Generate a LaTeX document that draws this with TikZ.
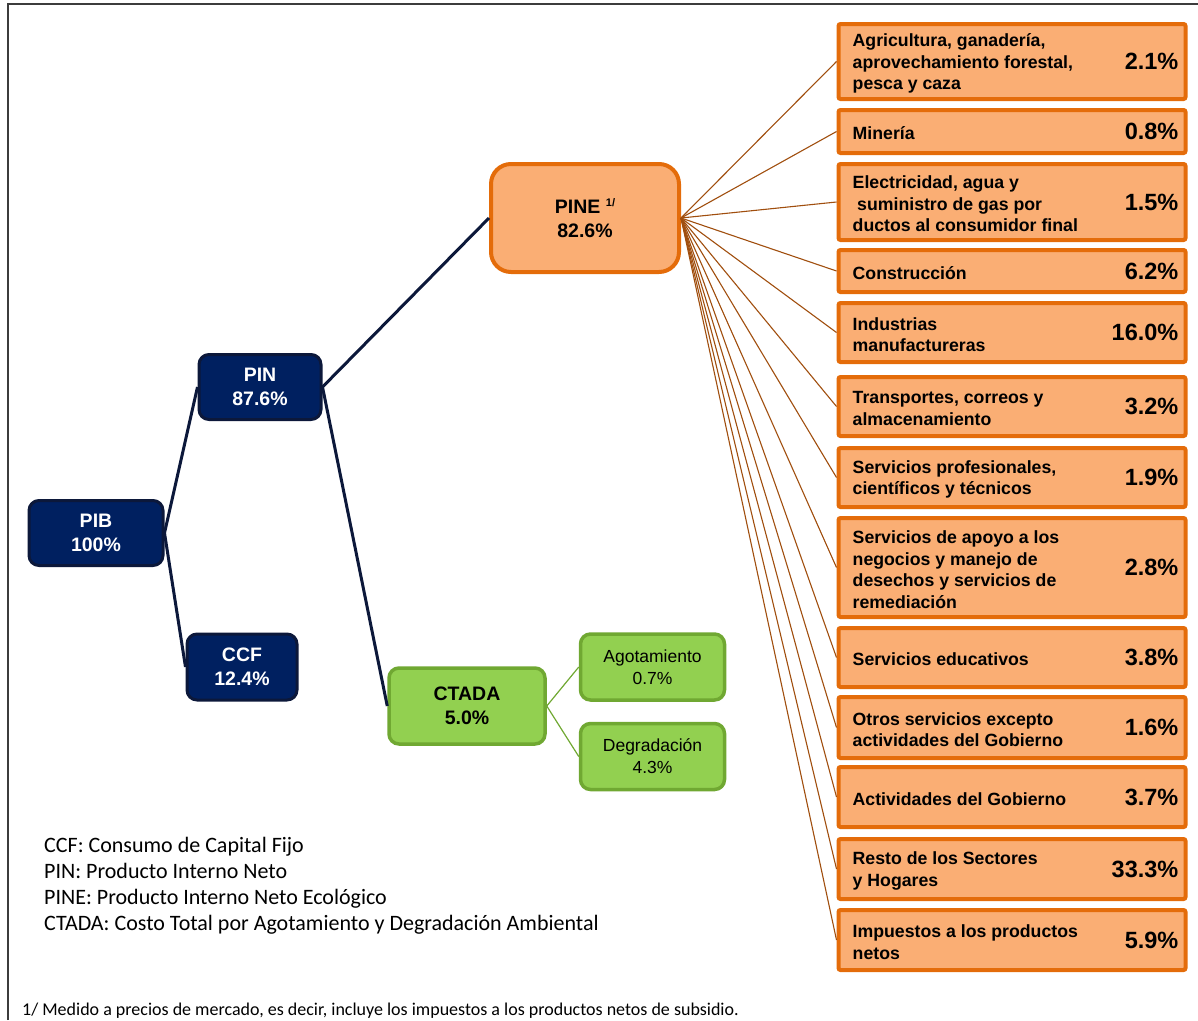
\documentclass[tikz,border=0pt]{standalone}
\usepackage{fontspec}
\setmainfont{Liberation Sans}
\newfontfamily\notefont{Carlito}
\usetikzlibrary{positioning}
\definecolor{navyfill}{RGB}{0,32,96}
\definecolor{navyline}{RGB}{12,24,58}
\definecolor{pinefill}{RGB}{250,174,116}
\definecolor{pineline}{RGB}{228,108,10}
\definecolor{greenfill}{RGB}{146,208,80}
\definecolor{greenline}{RGB}{112,168,50}
\definecolor{rayline}{RGB}{160,78,14}
\definecolor{frameline}{RGB}{60,60,60}

\begin{document}
\begin{tikzpicture}[x=1pt,y=-1pt,
  navybox/.style={draw=navyline, line width=3pt, fill=navyfill, rounded corners=10pt,
    text=white, font=\fontsize{19.5}{24}\selectfont\bfseries, align=center, inner sep=0pt},
  pinebox/.style={draw=pineline, line width=4pt, fill=pinefill, rounded corners=20pt,
    font=\fontsize{19.5}{24}\selectfont\bfseries, align=center, inner sep=0pt},
  greenbox/.style={draw=greenline, line width=3.5pt, fill=greenfill, rounded corners=10pt,
    font=\fontsize{17.5}{22}\selectfont, align=center, inner sep=0pt,
    minimum width=144pt, minimum height=66pt},
  secbox/.style={draw=pineline, line width=4pt, fill=pinefill, rounded corners=2pt,
    minimum width=347pt, inner sep=0pt},
  seclabel/.style={font=\fontsize{17.7}{21.5}\selectfont\bfseries, align=left, inner sep=0pt, yshift=-2pt},
  secpct/.style={font=\fontsize{23.5}{26}\selectfont\bfseries, inner sep=0pt},
  trunk/.style={draw=navyline, line width=3pt},
  twig/.style={draw=greenline, line width=1.2pt},
  ray/.style={draw=rayline, line width=1.1pt}]
\useasboundingbox (0,0) rectangle (1198,1020);

% marco
\draw[frameline, line width=1.5pt] (8,1020) -- (8,4) -- (1198,4);

% PIB, PIN y CCF
\node[navybox, minimum width=134pt, minimum height=65pt] (pib) at (96,533) {PIB\\100\%};
\node[navybox, minimum width=122pt, minimum height=65pt] (pin) at (260,387) {PIN\\87.6\%};
\node[navybox, minimum width=110pt, minimum height=66pt] (ccf) at (242,667) {CCF\\12.4\%};

% PINE y CTADA
\node[pinebox, minimum width=188pt, minimum height=108pt] (pine) at (585,218)
  {PINE \raisebox{0.75ex}{\fontsize{11}{11}\selectfont 1/}\\82.6\%};
\node[greenbox, minimum width=156pt, minimum height=76pt, font=\fontsize{19.5}{24}\selectfont\bfseries]
  (ctada) at (467,706) {CTADA\\5.0\%};
\node[greenbox] (agot) at (652.5,667) {Agotamiento\\0.7\%};
\node[greenbox] (degr) at (652.5,756.5) {Degradación\\4.3\%};

\draw[trunk] (pib.east) -- (pin.west);
\draw[trunk] (pib.east) -- (ccf.west);
\draw[trunk] (pin.east) -- (pine.west);
\draw[trunk] (pin.east) -- (ctada.west);
\draw[twig] (ctada.east) -- (agot.west);
\draw[twig] (ctada.east) -- (degr.west);

% sectores
\node[secbox, minimum height=75pt] (agr) at (1012,61.5) {};
\node[secbox, minimum height=43pt] (mine) at (1012,131.5) {};
\node[secbox, minimum height=76pt] (elec) at (1012,202) {};
\node[secbox, minimum height=42pt] (cons) at (1012,271) {};
\node[secbox, minimum height=59pt] (indu) at (1012,332.5) {};
\node[secbox, minimum height=59pt] (tran) at (1012,406.5) {};
\node[secbox, minimum height=59pt] (prof) at (1012,477.5) {};
\node[secbox, minimum height=99pt] (apoy) at (1012,567.5) {};
\node[secbox, minimum height=59pt] (educ) at (1012,657.5) {};
\node[secbox, minimum height=61pt] (otro) at (1012,727.5) {};
\node[secbox, minimum height=60pt] (gobi) at (1012,797) {};
\node[secbox, minimum height=60pt] (rest) at (1012,869) {};
\node[secbox, minimum height=60pt] (impu) at (1012,940) {};

\node[seclabel, right=16pt of agr.west] (agr-l) {Agricultura, ganadería,\\aprovechamiento forestal,\\pesca y caza};
\node[secpct, left=9pt of agr.east] (agr-p) {2.1\%};
\node[seclabel, right=16pt of mine.west] (mine-l) {Minería};
\node[secpct, left=9pt of mine.east] (mine-p) {0.8\%};
\node[seclabel, right=16pt of elec.west] (elec-l) {Electricidad, agua y\\\hspace*{4.5pt}suministro de gas por\\ductos al consumidor final};
\node[secpct, left=9pt of elec.east] (elec-p) {1.5\%};
\node[seclabel, right=16pt of cons.west] (cons-l) {Construcción};
\node[secpct, left=9pt of cons.east] (cons-p) {6.2\%};
\node[seclabel, right=16pt of indu.west] (indu-l) {Industrias\\manufactureras};
\node[secpct, left=9pt of indu.east] (indu-p) {16.0\%};
\node[seclabel, right=16pt of tran.west] (tran-l) {Transportes, correos y\\almacenamiento};
\node[secpct, left=9pt of tran.east] (tran-p) {3.2\%};
\node[seclabel, right=16pt of prof.west] (prof-l) {Servicios profesionales,\\científicos y técnicos};
\node[secpct, left=9pt of prof.east] (prof-p) {1.9\%};
\node[seclabel, right=16pt of apoy.west] (apoy-l) {Servicios de apoyo a los\\negocios y manejo de\\desechos y servicios de\\remediación};
\node[secpct, left=9pt of apoy.east] (apoy-p) {2.8\%};
\node[seclabel, right=16pt of educ.west] (educ-l) {Servicios educativos};
\node[secpct, left=9pt of educ.east] (educ-p) {3.8\%};
\node[seclabel, right=16pt of otro.west] (otro-l) {Otros servicios excepto\\actividades del Gobierno};
\node[secpct, left=9pt of otro.east] (otro-p) {1.6\%};
\node[seclabel, right=16pt of gobi.west] (gobi-l) {Actividades del Gobierno};
\node[secpct, left=9pt of gobi.east] (gobi-p) {3.7\%};
\node[seclabel, right=16pt of rest.west] (rest-l) {Resto de los Sectores\\y Hogares};
\node[secpct, left=9pt of rest.east] (rest-p) {33.3\%};
\node[seclabel, right=16pt of impu.west] (impu-l) {Impuestos a los productos\\netos};
\node[secpct, left=9pt of impu.east] (impu-p) {5.9\%};

\draw[ray] (pine.east) -- (agr.west);
\draw[ray] (pine.east) -- (mine.west);
\draw[ray] (pine.east) -- (elec.west);
\draw[ray] (pine.east) -- (cons.west);
\draw[ray] (pine.east) -- (indu.west);
\draw[ray] (pine.east) -- (tran.west);
\draw[ray] (pine.east) -- (prof.west);
\draw[ray] (pine.east) -- (apoy.west);
\draw[ray] (pine.east) -- (educ.west);
\draw[ray] (pine.east) -- (otro.west);
\draw[ray] (pine.east) -- (gobi.west);
\draw[ray] (pine.east) -- (rest.west);
\draw[ray] (pine.east) -- (impu.west);

% leyenda y nota
\node[anchor=north west, align=left, inner sep=0pt, font=\notefont\fontsize{22}{26}\selectfont]
  (legend) at (44,837) {CCF: Consumo de Capital Fijo\\PIN: Producto Interno Neto\\PINE: Producto Interno Neto Ecológico\\CTADA: Costo Total por Agotamiento y Degradación Ambiental};
\node[anchor=west, inner sep=0pt, font=\notefont\fontsize{18}{20}\selectfont]
  (note) at (22,1011) {1/ Medido a precios de mercado, es decir, incluye los impuestos a los productos netos de subsidio.};
\end{tikzpicture}
\end{document}
